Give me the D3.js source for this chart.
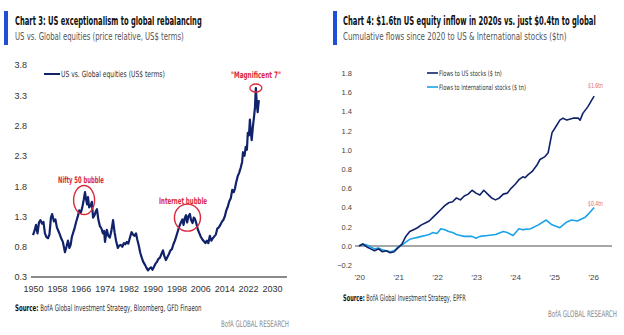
<!DOCTYPE html>
<html><head><meta charset="utf-8">
<script src="https://cdn.jsdelivr.net/npm/d3@7/dist/d3.min.js"></script>
<style>
html,body{margin:0;padding:0;background:#fff;}
svg{display:block;font-family:"Liberation Sans Narrow","DejaVu Sans Condensed","Roboto",sans-serif;}
</style></head><body>
<svg id="c" width="624" height="335"></svg>
<script>
// ---------- Chart 3 data ----------
const leftYears = [1950.0,1950.5,1951.0,1951.5,1952.0,1952.5,1953.0,1953.5,1954.0,1954.5,1955.0,1955.5,1956.0,1956.4,1957.0,1957.5,1958.0,1958.5,1959.0,1959.5,1960.0,1960.7,1961.2,1961.7,1962.2,1962.6,1963.0,1963.5,1964.0,1964.5,1965.0,1965.5,1966.0,1966.5,1967.0,1967.4,1967.7,1968.1,1968.4,1968.8,1969.3,1969.7,1970.1,1970.6,1971.0,1971.4,1971.9,1972.4,1972.9,1973.4,1973.8,1974.1,1974.7,1975.2,1975.7,1976.2,1976.8,1977.3,1977.8,1978.4,1978.9,1979.4,1979.9,1980.4,1980.9,1981.4,1981.9,1982.5,1983.0,1983.5,1984.0,1984.5,1984.9,1985.4,1985.9,1986.4,1986.9,1987.5,1988.0,1988.5,1989.0,1989.5,1990.0,1990.5,1991.0,1991.5,1992.0,1992.5,1993.0,1993.5,1994.0,1994.5,1995.0,1995.5,1996.0,1996.5,1997.0,1997.5,1998.0,1998.5,1999.0,1999.5,2000.0,2000.4,2000.8,2001.2,2001.6,2002.0,2002.5,2002.9,2003.4,2003.8,2004.2,2004.7,2005.2,2005.7,2006.2,2006.7,2007.2,2007.7,2008.2,2008.7,2009.2,2009.7,2010.2,2010.7,2011.2,2011.7,2012.2,2012.7,2013.2,2013.7,2014.2,2014.7,2015.2,2015.7,2016.2,2016.7,2017.2,2017.6,2018.0,2018.5,2019.0,2019.5,2020.0,2020.3,2020.8,2021.2,2021.6,2021.9,2022.3,2022.6,2022.9,2023.2,2023.6,2024.0,2024.3,2024.6,2024.9,2025.2,2025.6];
const leftValues = [0.99,1.06,1.16,1.02,1.20,1.24,1.18,1.21,1.02,0.96,0.94,1.00,1.28,1.34,1.22,1.25,1.12,1.06,1.00,0.93,0.88,0.71,0.80,0.90,0.78,0.83,0.96,1.04,1.12,1.22,1.30,1.40,1.36,1.45,1.58,1.70,1.60,1.50,1.62,1.45,1.48,1.54,1.28,1.32,1.38,1.42,1.24,1.14,1.10,1.02,1.06,0.88,1.08,0.98,0.95,1.05,1.24,1.04,0.90,0.78,0.82,0.83,0.80,0.86,0.84,0.88,0.85,0.96,1.04,1.00,0.98,1.02,0.92,0.82,0.70,0.62,0.55,0.50,0.45,0.41,0.44,0.46,0.42,0.47,0.52,0.55,0.60,0.62,0.68,0.74,0.64,0.58,0.63,0.68,0.74,0.76,0.84,0.90,0.98,1.06,1.14,1.20,1.25,1.16,1.27,1.32,1.20,1.30,1.34,1.24,1.19,1.28,1.26,1.18,1.08,1.02,0.96,0.92,0.89,0.86,0.90,0.86,0.98,0.90,0.94,0.97,1.00,1.10,1.12,1.16,1.21,1.24,1.30,1.40,1.46,1.55,1.60,1.74,1.70,1.76,1.86,1.96,2.02,2.10,2.20,2.36,2.30,2.45,2.40,2.68,2.64,2.90,2.70,2.56,2.78,2.95,3.10,3.42,3.16,3.02,3.22];
const leftYTicks = [0.3,0.8,1.3,1.8,2.3,2.8,3.3,3.8];
const leftXTicks = [1950,1958,1966,1974,1982,1990,1998,2006,2014,2022,2030];

// ---------- Chart 4 data ----------
const usDates = [2020.0,2020.1,2020.2,2020.3,2020.4,2020.5,2020.6,2020.7,2020.8,2020.9,2021.0,2021.1,2021.2,2021.3,2021.4,2021.5,2021.6,2021.7,2021.8,2021.9,2022.0,2022.1,2022.2,2022.3,2022.4,2022.5,2022.6,2022.7,2022.8,2022.9,2023.0,2023.1,2023.2,2023.3,2023.4,2023.5,2023.6,2023.7,2023.8,2023.9,2024.0,2024.1,2024.2,2024.26,2024.33,2024.45,2024.56,2024.64,2024.77,2024.85,2024.95,2025.03,2025.15,2025.23,2025.33,2025.49,2025.62,2025.67,2025.74,2025.87,2025.97,2026.03];
const usFlows = [0.00,0.02,-0.01,-0.03,-0.05,-0.03,-0.06,-0.05,-0.07,-0.06,-0.02,0.02,0.10,0.15,0.17,0.19,0.22,0.24,0.26,0.30,0.34,0.38,0.42,0.45,0.46,0.50,0.48,0.52,0.54,0.58,0.55,0.53,0.58,0.54,0.50,0.48,0.50,0.54,0.55,0.60,0.64,0.69,0.72,0.71,0.74,0.78,0.84,0.90,0.93,0.97,1.18,1.23,1.31,1.33,1.31,1.33,1.33,1.31,1.38,1.45,1.52,1.56];
const intlDates = [2020.0,2020.1,2020.2,2020.3,2020.4,2020.5,2020.6,2020.7,2020.8,2020.9,2021.0,2021.1,2021.2,2021.3,2021.4,2021.5,2021.6,2021.7,2021.8,2021.9,2022.0,2022.1,2022.2,2022.3,2022.4,2022.5,2022.6,2022.7,2022.8,2022.9,2023.0,2023.1,2023.3,2023.5,2023.7,2023.8,2023.95,2024.1,2024.2,2024.4,2024.6,2024.8,2024.95,2025.15,2025.33,2025.45,2025.6,2025.8,2025.9,2026.03];
const intlFlows = [0.00,0.02,0.01,-0.01,-0.03,-0.02,-0.04,-0.05,-0.06,-0.05,-0.01,0.01,0.04,0.07,0.08,0.09,0.10,0.11,0.12,0.14,0.13,0.18,0.17,0.15,0.14,0.12,0.11,0.10,0.10,0.10,0.08,0.10,0.11,0.12,0.15,0.14,0.11,0.18,0.17,0.18,0.22,0.27,0.22,0.19,0.25,0.27,0.26,0.30,0.34,0.40];
const rightYTicks = [-0.2,0.0,0.2,0.4,0.6,0.8,1.0,1.2,1.4,1.6,1.8];
const rightXTicks = [2020,2021,2022,2023,2024,2025,2026];

const NAVY = "#10226a", LBLUE = "#1aa3e8", RED = "#d82a3c", BAR = "#1f4fd6";
const svg = d3.select("#c");

// squeeze a text horizontally to a target width (keeps it real text)
function fit(t, w) {
  const n = t.node().getComputedTextLength();
  const x = +t.attr("x"), y = +t.attr("y");
  const k = Math.min(1.3, w / n);
  t.attr("x", 0).attr("y", 0).attr("transform", `translate(${x},${y}) scale(${k},1)`);
  return t;
}
function txt(g, x, y, s, opt) {
  const t = g.append("text").attr("x", x).attr("y", y).text(s)
    .attr("font-size", opt.size).attr("fill", opt.fill || "#222");
  if (opt.weight) t.attr("font-weight", opt.weight);
  if (opt.len) fit(t, opt.len);
  return t;
}

// ================= Chart 3 =================
{
  const g = svg.append("g");
  g.append("rect").attr("x", 4).attr("y", 11).attr("width", 4).attr("height", 34).attr("fill", BAR);
  txt(g, 15, 25, "Chart 3: US exceptionalism to global rebalancing", {size: 12, weight: "bold", fill: "#111", len: 187});
  txt(g, 15, 40, "US vs. Global equities (price relative, US$ terms)", {size: 10.5, fill: "#555", len: 169});

  const x = d3.scaleLinear().domain([1950, 2030]).range([33, 272]);
  const y = d3.scaleLinear().domain([0.3, 3.8]).range([277, 65]);

  const ya = g.append("g").attr("transform", "translate(27,0)")
    .call(d3.axisLeft(y).tickValues(leftYTicks).tickFormat(d3.format(".1f")).tickSize(0).tickPadding(0));
  ya.select(".domain").remove();
  ya.selectAll("text").attr("font-size", 9).attr("fill", "#333").attr("font-family", null);

  const xa = g.append("g").attr("transform", "translate(0,286)")
    .call(d3.axisBottom(x).tickValues(leftXTicks).tickFormat(d3.format("d")).tickSize(0).tickPadding(0));
  xa.select(".domain").remove();
  xa.selectAll("text").attr("font-size", 9).attr("fill", "#333").attr("font-family", null);

  g.append("line").attr("x1", 31).attr("x2", 287).attr("y1", y(0.3)).attr("y2", y(0.3))
    .attr("stroke", "#8a8a8a").attr("stroke-width", 2);

  const data = leftYears.map((d, i) => [d, leftValues[i]]);
  g.append("path").datum(data)
    .attr("d", d3.line().x(d => x(d[0])).y(d => y(d[1])))
    .attr("fill", "none").attr("stroke", NAVY).attr("stroke-width", 2.2).attr("stroke-linejoin", "round");

  g.append("line").attr("x1", 44).attr("x2", 60).attr("y1", 74).attr("y2", 74).attr("stroke", NAVY).attr("stroke-width", 2);
  txt(g, 61, 77, "US vs. Global equities (US$ terms)", {size: 8.5, fill: "#333", len: 104});

  txt(g, 58, 183, "Nifty 50 bubble", {size: 9, weight: "bold", fill: RED, len: 46});
  g.append("ellipse").attr("cx", x(1967.1)).attr("cy", y(1.57)).attr("rx", 10.5).attr("ry", 14.5)
    .attr("fill", "none").attr("stroke", RED).attr("stroke-width", 1.4);
  txt(g, 159, 204, "Internet bubble", {size: 9, weight: "bold", fill: RED, len: 48});
  g.append("ellipse").attr("cx", x(2001.7)).attr("cy", y(1.28)).attr("rx", 13).attr("ry", 13.5)
    .attr("fill", "none").attr("stroke", RED).attr("stroke-width", 1.4);
  txt(g, 231, 78, "\"Magnificent 7\"", {size: 9, weight: "bold", fill: RED, len: 50});
  g.append("ellipse").attr("cx", x(2024.6)).attr("cy", y(3.42)).attr("rx", 6).attr("ry", 4)
    .attr("fill", "none").attr("stroke", RED).attr("stroke-width", 1.3);

  const s = g.append("text").attr("x", 15).attr("y", 311).attr("font-size", 9).attr("fill", "#333");
  s.append("tspan").attr("font-weight", "bold").attr("fill", "#111").text("Source:");
  s.append("tspan").text(" BofA Global Investment Strategy, Bloomberg, GFD Finaeon");
  fit(s, 187);
  txt(g, 221, 327, "BofA GLOBAL RESEARCH", {size: 9, fill: "#8a8a8a", len: 68});
}

// ================= Chart 4 =================
{
  const g = svg.append("g");
  g.append("rect").attr("x", 333).attr("y", 11).attr("width", 4).attr("height", 34).attr("fill", BAR);
  txt(g, 343, 25, "Chart 4: $1.6tn US equity inflow in 2020s vs. just $0.4tn to global", {size: 12, weight: "bold", fill: "#111", len: 253});
  txt(g, 343, 40, "Cumulative flows since 2020 to US & International stocks ($tn)", {size: 10.5, fill: "#555", len: 224});

  const x = d3.scaleLinear().domain([2020, 2026]).range([359, 593]);
  const y = d3.scaleLinear().domain([0, 1.8]).range([246, 73]);

  const ya = g.append("g").attr("transform", "translate(352,0)")
    .call(d3.axisLeft(y).tickValues(rightYTicks).tickFormat(d3.format(".1f")).tickSize(0).tickPadding(0));
  ya.select(".domain").remove();
  ya.selectAll("text").attr("font-size", 7.5).attr("fill", "#444").attr("font-family", null);

  const xa = g.append("g").attr("transform", "translate(0,274)")
    .call(d3.axisBottom(x).tickValues(rightXTicks).tickFormat(d => "\u2019" + String(d).slice(2)).tickSize(0).tickPadding(0));
  xa.select(".domain").remove();
  xa.selectAll("text").attr("font-size", 8).attr("fill", "#444").attr("font-family", null);

  g.append("line").attr("x1", 355).attr("x2", 612).attr("y1", y(0)).attr("y2", y(0))
    .attr("stroke", "#8a8a8a").attr("stroke-width", 1.6);

  const line = d3.line().x(d => x(d[0])).y(d => y(d[1]));
  g.append("path").datum(intlDates.map((d, i) => [d, intlFlows[i]]))
    .attr("d", line).attr("fill", "none").attr("stroke", LBLUE).attr("stroke-width", 1.6).attr("stroke-linejoin", "round");
  g.append("path").datum(usDates.map((d, i) => [d, usFlows[i]]))
    .attr("d", line).attr("fill", "none").attr("stroke", NAVY).attr("stroke-width", 1.6).attr("stroke-linejoin", "round");

  g.append("line").attr("x1", 427).attr("x2", 438).attr("y1", 73).attr("y2", 73).attr("stroke", NAVY).attr("stroke-width", 1.6);
  txt(g, 439, 76, "Flows to US stocks ($ tn)", {size: 7.5, fill: "#333", len: 63});
  g.append("line").attr("x1", 427).attr("x2", 438).attr("y1", 87).attr("y2", 87).attr("stroke", LBLUE).attr("stroke-width", 1.6);
  txt(g, 439, 90, "Flows to International stocks ($ tn)", {size: 7.5, fill: "#333", len: 87});

  txt(g, 588, 88, "$1.6tn", {size: 7, fill: "#e26a6a", len: 15});
  txt(g, 588, 206, "$0.4tn", {size: 7, fill: "#e26a6a", len: 15});

  const s = g.append("text").attr("x", 343).attr("y", 301).attr("font-size", 9).attr("fill", "#333");
  s.append("tspan").attr("font-weight", "bold").attr("fill", "#111").text("Source:");
  s.append("tspan").text(" BofA Global Investment Strategy, EPFR");
  fit(s, 123);
  txt(g, 548, 317, "BofA GLOBAL RESEARCH", {size: 9, fill: "#8a8a8a", len: 69});
}
</script>
</body></html>
